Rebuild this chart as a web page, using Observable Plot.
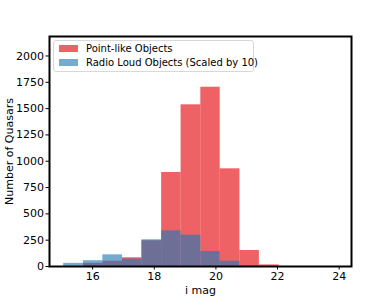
<!DOCTYPE html>
<html><head><meta charset="utf-8">
<script src="https://cdn.jsdelivr.net/npm/d3@7"></script>
<script src="https://cdn.jsdelivr.net/npm/@observablehq/plot@0.6"></script>
<style>
body{margin:0;background:#fff;font-family:"DejaVu Sans",sans-serif;}
#wrap{position:relative;width:390px;height:299px;}
.legend{position:absolute;left:53px;top:40px;width:199px;height:30px;border:1px solid #d8d8d8;border-radius:3px;background:rgba(255,255,255,0.8);font-size:10px;color:#000;}
.row{position:absolute;left:5px;display:flex;align-items:center;white-space:nowrap;}
.sw{width:19px;height:7px;margin-right:8px;}
</style></head>
<body><div id="wrap"></div>
<script>
const binEdges = [15.06,15.70,16.33,16.97,17.60,18.24,18.87,19.51,20.14,20.78,21.41,22.05,22.69,23.32,23.96];
const pointLike = [0,30,50,83,245,893,1536,1703,928,152,15,0,0,0];
const radioLoud = [30,55,111,70,254,339,298,143,50,3,0,0,0,0];
const seriesNames = ["Point-like Objects","Radio Loud Objects (Scaled by 10)"];
const xTicks = [16,18,20,22,24];
const yTicks = [0,250,500,750,1000,1250,1500,1750,2000];
const redC = "#e8262b", blueC = "#1f77b4";

const mk = vals => vals.map((v,i)=>({x1:binEdges[i],x2:binEdges[i+1],y:v}));
const plot = Plot.plot({
  width:390,height:299,
  marginLeft:49,marginRight:39,marginTop:36,marginBottom:33,
  style:{fontFamily:"DejaVu Sans",fontSize:"11px",color:"#000",background:"#fff"},
  x:{domain:[14.6,24.4],ticks:xTicks,tickFormat:d=>String(d),tickSize:3.5,tickPadding:2,label:null},
  y:{domain:[0,2185],ticks:yTicks,tickFormat:d=>String(d),tickSize:3.5,tickPadding:2,label:null},
  marks:[
    Plot.rectY(mk(pointLike),{x1:"x1",x2:"x2",y:"y",fill:redC,fillOpacity:0.72}),
    Plot.rectY(mk(radioLoud),{x1:"x1",x2:"x2",y:"y",fill:blueC,fillOpacity:0.62}),
    Plot.frame({stroke:"black",strokeWidth:2}),
    Plot.text(["i mag"],{frameAnchor:"bottom",dy:27,fontSize:11}),
    Plot.text(["Number of Quasars"],{frameAnchor:"left",textAnchor:"middle",dx:-40,rotate:-90,fontSize:11})
  ]
});
const wrap=document.getElementById("wrap");
wrap.appendChild(plot);
const lg=document.createElement("div");lg.className="legend";
seriesNames.forEach((n,i)=>{
  const r=document.createElement("div");r.className="row";r.style.top=(i?16:2)+"px";
  const s=document.createElement("div");s.className="sw";
  s.style.background=i?blueC:redC;s.style.opacity=i?0.62:0.72;
  const t=document.createElement("span");t.textContent=n;
  r.appendChild(s);r.appendChild(t);lg.appendChild(r);
});
wrap.appendChild(lg);
</script></body></html>
